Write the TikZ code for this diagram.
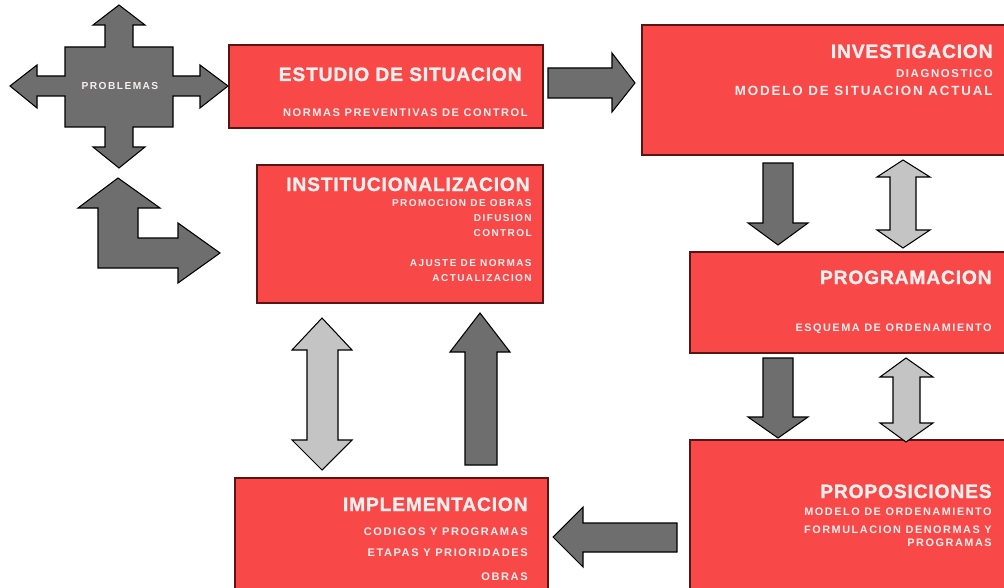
\documentclass[tikz,border=0pt]{standalone}
\usepackage{fontspec}
\newfontfamily\boxfont[LetterSpace=14]{Liberation Sans}
\newfontfamily\titlefont[LetterSpace=4,FakeBold=1.2]{Liberation Sans}
\definecolor{boxred}{RGB}{248,72,72}
\definecolor{boxline}{RGB}{90,20,20}
\definecolor{boxtext}{RGB}{247,238,238}
\definecolor{darkarrow}{RGB}{110,110,110}
\definecolor{lightarrow}{RGB}{196,196,196}
\begin{document}
\begin{tikzpicture}[x=0.02cm,y=-0.02cm]
        \tikzstyle{stage}=[rectangle,draw=boxline,line width=0.8pt,fill=boxred,inner sep=0pt]
        \tikzstyle{title}=[anchor=base east,inner sep=0pt,text=boxtext,font=\titlefont\bfseries\fontsize{11}{12}\selectfont]
        \tikzstyle{sub}=[anchor=base east,inner sep=0pt,text=boxtext,font=\boxfont\bfseries\fontsize{6.3}{7}\selectfont]
        \tikzstyle{subsmall}=[sub,font=\boxfont\bfseries\fontsize{5.7}{7}\selectfont]
        \tikzstyle{dark}=[draw=black,line width=0.6pt,fill=darkarrow,line join=miter]
        \tikzstyle{light}=[draw=black,line width=0.6pt,fill=lightarrow,line join=miter]
        \useasboundingbox (0,0) rectangle (1004,588);
        \clip (0,0) rectangle (1004,588);
       \begin{scope}
         % stages
         \node [stage,minimum width=6.28cm,minimum height=1.66cm] (est) at (386,86.5) {};
         \node [stage,minimum width=7.32cm,minimum height=2.6cm] (inv) at (825,90) {};
         \node [stage,minimum width=5.72cm,minimum height=2.76cm] (ins) at (400,234) {};
         \node [stage,minimum width=6.36cm,minimum height=2.02cm] (prg) at (849,302.5) {};
         \node [stage,minimum width=6.36cm,minimum height=3.04cm] (prp) at (849,516) {};
         \node [stage,minimum width=6.26cm,minimum height=2.28cm] (imp) at (391.5,535) {};
         % texts
         \node [title] (est-t) at (522,81) {ESTUDIO DE SITUACION};
         \node [sub] (est-a) at (528,116) {NORMAS PREVENTIVAS DE CONTROL};
         \node [title] (inv-t) at (993,58) {INVESTIGACION};
         \node [sub,font=\boxfont\bfseries\fontsize{6.5}{7}\selectfont] (inv-a) at (993,78) {DIAGNOSTICO};
         \node [sub,font=\boxfont\bfseries\fontsize{7.6}{8}\selectfont] (inv-b) at (993,96) {MODELO DE SITUACION ACTUAL};
         \node [title] (ins-t) at (530,191) {INSTITUCIONALIZACION};
         \node [subsmall] (ins-a) at (532,206) {PROMOCION DE OBRAS};
         \node [subsmall] (ins-b) at (532,221) {DIFUSION};
         \node [subsmall] (ins-c) at (532,236) {CONTROL};
         \node [subsmall] (ins-d) at (532,266) {AJUSTE DE NORMAS};
         \node [subsmall] (ins-e) at (532,281) {ACTUALIZACION};
         \node [title] (prg-t) at (992,284) {PROGRAMACION};
         \node [sub,font=\boxfont\bfseries\fontsize{6.2}{7}\selectfont] (prg-a) at (992,331) {ESQUEMA DE ORDENAMIENTO};
         \node [title] (prp-t) at (992,498) {PROPOSICIONES};
         \node [sub,font=\boxfont\bfseries\fontsize{6.2}{7}\selectfont] (prp-a) at (992,515) {MODELO DE ORDENAMIENTO};
         \node [sub,font=\boxfont\bfseries\fontsize{6.2}{7}\selectfont] (prp-b) at (992,533) {FORMULACION DENORMAS Y};
         \node [sub,font=\boxfont\bfseries\fontsize{6.2}{7}\selectfont] (prp-c) at (992,546) {PROGRAMAS};
         \node [title] (imp-t) at (528,511) {IMPLEMENTACION};
         \node [sub] (imp-a) at (528,535) {CODIGOS Y PROGRAMAS};
         \node [sub] (imp-b) at (528,556) {ETAPAS Y PRIORIDADES};
         \node [sub] (imp-c) at (528,580) {OBRAS};
        \end{scope}
       \begin{scope}
         % problemas cross
         \path[dark] (119,5) -- (145,25) -- (133,25) -- (133,47) -- (173,47) -- (173,76) -- (200,76) -- (200,65) -- (228,86) -- (200,108) -- (200,96) -- (173,96) -- (173,127) -- (133,127) -- (133,147) -- (145,147) -- (119,168) -- (93,147) -- (105,147) -- (105,127) -- (65,127) -- (65,96) -- (37,96) -- (37,108) -- (10,86) -- (37,65) -- (37,76) -- (65,76) -- (65,47) -- (105,47) -- (105,25) -- (93,25) -- cycle;
         \node [inner sep=0pt,text=boxtext,font=\boxfont\bfseries\fontsize{5.8}{7}\selectfont] (prob) at (120,86) {PROBLEMAS};
         % feedback arrow
         \path[dark] (118,178) -- (160,208) -- (138,208) -- (138,238) -- (178,238) -- (178,223) -- (220,253) -- (178,283) -- (178,268) -- (98,268) -- (98,208) -- (78,208) -- cycle;
         % flow arrows
         \path[dark] (548,68) -- (612,68) -- (612,53) -- (635,83) -- (612,112) -- (612,98) -- (548,98) -- cycle;
         \path[dark] (763,163) -- (793,163) -- (793,223) -- (808,223) -- (778,245) -- (748,223) -- (763,223) -- cycle;
         \path[light] (903,160) -- (930,177) -- (916,177) -- (916,230) -- (930,230) -- (903,248) -- (877,230) -- (890,230) -- (890,177) -- (877,177) -- cycle;
         \path[dark] (763,358) -- (793,358) -- (793,417) -- (808,417) -- (778,438) -- (748,417) -- (763,417) -- cycle;
         \path[light] (906,358) -- (933,377) -- (920,377) -- (920,423) -- (933,423) -- (906,442) -- (880,423) -- (893,423) -- (893,377) -- (880,377) -- cycle;
         \path[dark] (677,523) -- (583,523) -- (583,507) -- (553,537) -- (583,567) -- (583,552) -- (677,552) -- cycle;
         \path[light] (322,318) -- (352,350) -- (338,350) -- (338,440) -- (352,440) -- (322,470) -- (292,440) -- (307,440) -- (307,350) -- (292,350) -- cycle;
         \path[dark] (480,313) -- (510,352) -- (497,352) -- (497,465) -- (465,465) -- (465,352) -- (450,352) -- cycle;
        \end{scope}
      \end{tikzpicture}
\end{document}
